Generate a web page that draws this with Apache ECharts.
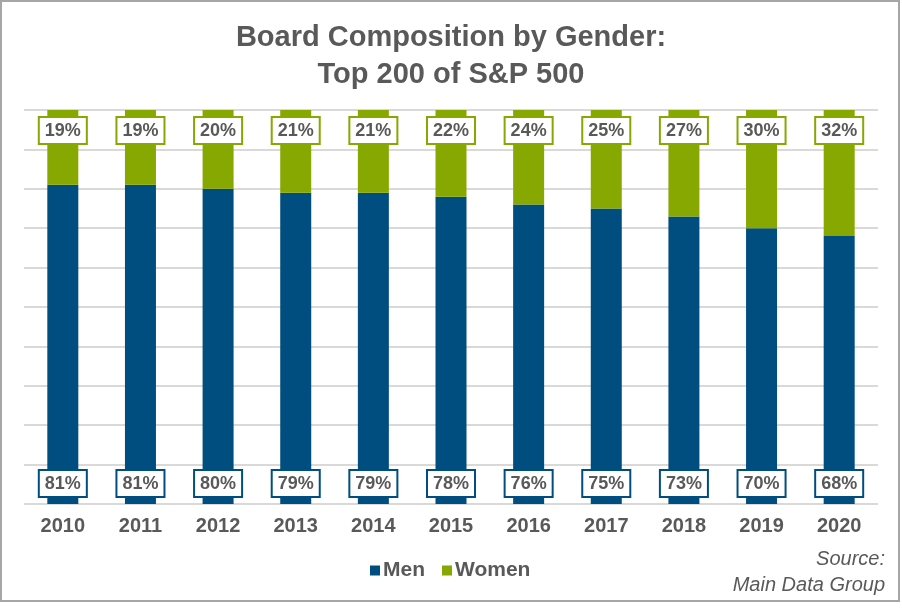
<!DOCTYPE html>
<html><head><meta charset="utf-8">
<script src="https://cdn.jsdelivr.net/npm/echarts@6/dist/echarts.min.js"></script>
<style>html,body{margin:0;padding:0;background:#fff}#c{width:902px;height:611px}</style>
</head><body><div id="c"></div>
<script>
const years = ['2010','2011','2012','2013','2014','2015','2016','2017','2018','2019','2020'];
const men = [81,81,80,79,79,78,76,75,73,70,68];
const women = [19,19,20,21,21,22,24,25,27,30,32];
const menColor = '#004D80';
const womenColor = '#87A800';
const txt = '#595959';
const font = '"Liberation Sans", Arial, sans-serif';
const chart = echarts.init(document.getElementById('c'));
function lbl(pos, color){
  return {show:true, position:pos, distance:8, formatter:'{c}%', color:txt, fontFamily:font,
    fontWeight:'bold', fontSize:18, backgroundColor:'#fff', borderColor:color, borderWidth:2,
    padding:[4,5,2,5], lineHeight:19};
}
chart.setOption({
  animation:false,
  textStyle:{fontFamily:font},
  title:{text:'Board Composition by Gender:\nTop 200 of S&P 500', left:'center', top:14,
    textStyle:{color:txt, fontSize:29, fontWeight:'bold', fontFamily:font, lineHeight:37}},
  legend:{bottom:25, left:365, itemWidth:10, itemHeight:10, itemGap:17, icon:'rect',
    textStyle:{color:txt, fontSize:21, fontWeight:'bold', fontFamily:font, padding:[0,0,0,-2]},
    data:['Men','Women']},
  grid:{left:24, right:24, top:110, bottom:107},
  xAxis:{type:'category', data:years, axisLine:{show:false}, axisTick:{show:false},
    axisLabel:{color:txt, fontSize:20, fontWeight:'bold', margin:12, fontFamily:font}},
  yAxis:{type:'value', min:0, max:100, interval:10, axisLabel:{show:false},
    axisLine:{show:false}, axisTick:{show:false}, splitLine:{lineStyle:{color:'#D9D9D9', width:2}}},
  series:[
    {name:'Men', type:'bar', stack:'a', data:men, barWidth:31, itemStyle:{color:menColor},
     label:lbl('insideBottom', menColor)},
    {name:'Women', type:'bar', stack:'a', data:women, barWidth:31, itemStyle:{color:womenColor},
     label:lbl('insideTop', womenColor)}
  ],
  graphic:[
    {type:'rect', shape:{x:1, y:1, width:898, height:600}, style:{fill:'none', stroke:'#A6A6A6', lineWidth:2}, silent:true},
    {type:'text', x:885, y:546, style:{text:'Source:\nMain Data Group', fill:txt, font:'italic 20px "Liberation Sans", Arial, sans-serif', align:'right', lineHeight:26}}
  ]
});
</script></body></html>
